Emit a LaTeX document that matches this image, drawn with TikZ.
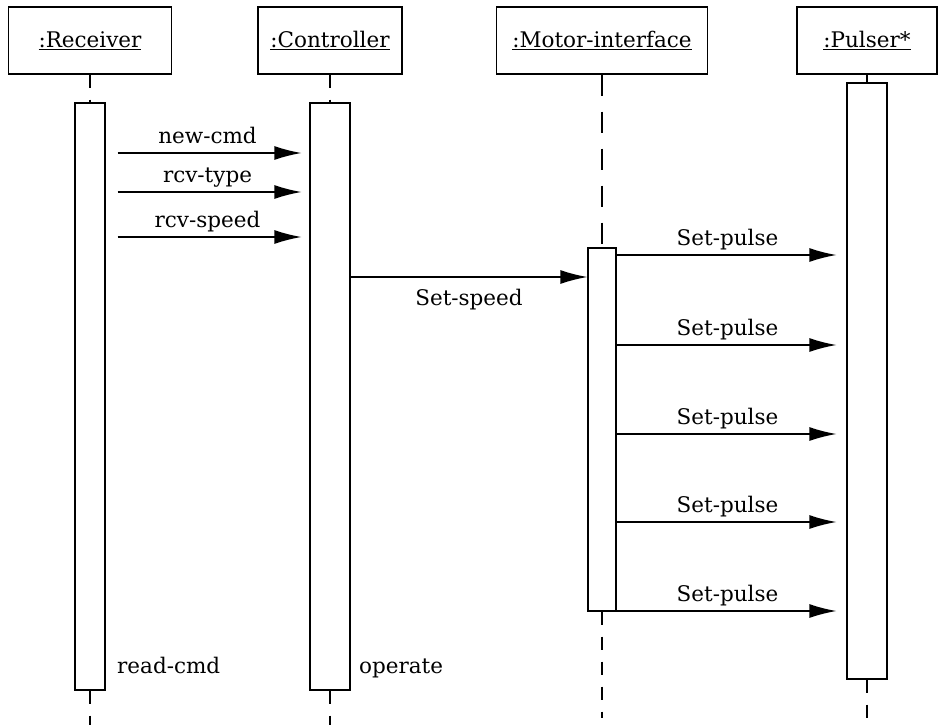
\documentclass[tikz,border=0pt]{standalone}
\usepackage{fontspec}
\setmainfont{DejaVu Serif}
\usetikzlibrary{arrows.meta}
\tikzset{
  txt/.style={font=\fontsize{21.5}{25}\selectfont, inner sep=0pt},
  obj/.style={draw, line width=1.3pt, minimum height=67pt, font=\fontsize{21.5}{25}\selectfont},
  act/.style={draw, line width=1.3pt, fill=white},
  msg/.style={line width=1.3pt, -{Latex[length=27pt,width=14pt]}},
  life/.style={line width=1.3pt, dash pattern=on 13pt off 12pt},
  lbl/.style={txt, anchor=base, yshift=10pt},
}
\begin{document}
\begin{tikzpicture}[x=1pt,y=-1pt]
\useasboundingbox (0,0) rectangle (940,725);
\node[obj, minimum width=163pt] (rec) at (90,40.5) {\underline{:Receiver}};
\node[obj, minimum width=144pt] (ctl) at (330,40.5) {\underline{:Controller}};
\node[obj, minimum width=211pt] (mot) at (602,40.5) {\underline{:Motor-interface}};
\node[obj, minimum width=140pt] (pul) at (867,40.5) {\underline{:Pulser*}};
\node[act, minimum width=30pt, minimum height=587pt] (recA) at (90,396.5) {};
\node[act, minimum width=40pt, minimum height=587pt] (ctlA) at (330,396.5) {};
\node[act, minimum width=28pt, minimum height=363pt] (motA) at (602,429.5) {};
\node[act, minimum width=40pt, minimum height=596pt] (pulA) at (867,381) {};
\coordinate (recE) at (90,725);
\coordinate (ctlE) at (330,725);
\coordinate (motE) at (602,718);
\coordinate (pulE) at (867,718);
\draw[life] (rec.south) -- (recA.north);
\draw[life] (recA.south) -- (recE);
\draw[life] (ctl.south) -- (ctlA.north);
\draw[life] (ctlA.south) -- (ctlE);
\draw[life, dash pattern=on 21pt off 16pt] (mot.south) -- (motA.north);
\draw[life] (motA.south) -- (motE);
\draw[life] (pul.south) -- (pulA.north);
\draw[life] (pulA.south) -- (pulE);
\draw[msg, shorten <=12pt, shorten >=8pt] (recA.east |- 0,153) -- node[lbl] (m1) {new-cmd} (ctlA.west |- 0,153);
\draw[msg, shorten <=12pt, shorten >=8pt] (recA.east |- 0,192) -- node[lbl] (m2) {rcv-type} (ctlA.west |- 0,192);
\draw[msg, shorten <=12pt, shorten >=8pt] (recA.east |- 0,237) -- node[lbl] (m3) {rcv-speed} (ctlA.west |- 0,237);
\draw[msg] (ctlA.east |- 0,277) -- node[lbl, yshift=-38pt] (m4) {Set-speed} (motA.west |- 0,277);
\draw[msg, shorten >=10pt] (motA.east |- 0,255) -- node[lbl, xshift=-4pt] (p1) {Set-pulse} (pulA.west |- 0,255);
\draw[msg, shorten >=10pt] (motA.east |- 0,345) -- node[lbl, xshift=-4pt] (p2) {Set-pulse} (pulA.west |- 0,345);
\draw[msg, shorten >=10pt] (motA.east |- 0,434) -- node[lbl, xshift=-4pt] (p3) {Set-pulse} (pulA.west |- 0,434);
\draw[msg, shorten >=10pt] (motA.east |- 0,522) -- node[lbl, xshift=-4pt] (p4) {Set-pulse} (pulA.west |- 0,522);
\draw[msg, shorten >=10pt] (motA.east |- 0,611) -- node[lbl, xshift=-4pt] (p5) {Set-pulse} (pulA.west |- 0,611);
\node[txt, anchor=base west] (readcmd) at (117,673) {read-cmd};
\node[txt, anchor=base west] (operate) at (359,673) {operate};
\end{tikzpicture}
\end{document}
